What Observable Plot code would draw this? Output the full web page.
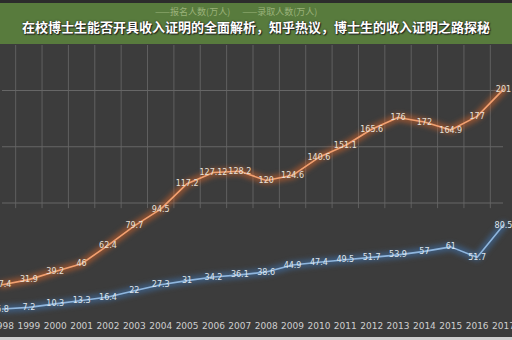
<!DOCTYPE html>
<html>
<head>
<meta charset="utf-8">
<script src="https://cdn.jsdelivr.net/npm/d3@7"></script>
<script src="https://cdn.jsdelivr.net/npm/@observablehq/plot@0.6"></script>
<style>
  html, body { margin: 0; padding: 0; background: #3c3c3c; }
  #wrap { position: relative; width: 512px; height: 340px; overflow: hidden; background: #3c3c3c; font-family: "Noto Sans CJK SC", "Noto Sans", sans-serif; }
  #topstrip { position: absolute; top: 0; left: 0; width: 512px; height: 3px; background: #2c2c2c; }
  #banner { position: absolute; top: 3px; left: 0; width: 512px; height: 41px; background: #587b3d; }
  #legend { position: absolute; top: 6px; left: 155px; font-size: 9px; line-height: 11px; color: #9ab27a; white-space: nowrap; }
  #legend span { margin-right: 12px; }
  #title { position: absolute; top: 18px; left: 0; width: 512px; text-align: center; font-size: 13px; line-height: 18px; font-weight: bold; color: #ffffff; white-space: nowrap; text-shadow: 0 0 2px #222, 1px 1px 1px #222; }
  #chart { position: absolute; top: 45px; left: 0; }
  #bottomline { position: absolute; left: 0; top: 337px; width: 512px; height: 3px; background: #cfcfcf; }
</style>
</head>
<body>
<div id="wrap">
  <div id="topstrip"></div>
  <div id="banner"></div>
  <div id="chart"></div>
  <div id="legend"><span>——报名人数(万人)</span><span>——录取人数(万人)</span></div>
  <div id="title">在校博士生能否开具收入证明的全面解析，知乎热议，博士生的收入证明之路探秘</div>
  <div id="bottomline"></div>
</div>
<script>
const years = [1998,1999,2000,2001,2002,2003,2004,2005,2006,2007,2008,2009,2010,2011,2012,2013,2014,2015,2016,2017];
const applicants = [27.4,31.9,39.2,46,62.4,79.7,94.5,117.2,127.12,128.2,120,124.6,140.6,151.1,165.6,176,172,164.9,177,201];
const admitted = [5.8,7.2,10.3,13.3,16.4,22,27.3,31,34.2,36.1,38.6,44.9,47.4,49.5,51.7,53.9,57,61,51.7,80.5];
const gridValues = [100,150,200];

const appData = years.map((y,i) => ({year: y, value: applicants[i]}));
const admData = years.map((y,i) => ({year: y, value: admitted[i]}));
const midYears = years.slice(0,-1).map(y => y + 0.5);

const plot = Plot.plot({
  width: 512,
  height: 295,
  marginLeft: 2,
  marginRight: 9,
  marginTop: 45,
  marginBottom: 25,
  style: {background: "transparent", color: "#cfcfcf", fontFamily: "DejaVu Sans, sans-serif"},
  x: {domain: [1998, 2017], ticks: years, tickFormat: d => String(d), tickSize: 0, tickPadding: 7, label: null},
  y: {domain: [0, 200], axis: null},
  marks: [
    Plot.ruleX(midYears, {x: d => d, y1: 95, y2: 240, stroke: "#606060", strokeWidth: 1}),
    Plot.ruleY(gridValues, {y: d => d, stroke: "#666666", strokeWidth: 1}),
    Plot.line(appData, {x: "year", y: "value", stroke: "#d9652a", strokeWidth: 8, strokeOpacity: 0.5, className: "glow"}),
    Plot.line(admData, {x: "year", y: "value", stroke: "#3f78b8", strokeWidth: 8, strokeOpacity: 0.5, className: "glow"}),
    Plot.line(appData, {x: "year", y: "value", stroke: "#f2a070", strokeWidth: 1.6}),
    Plot.line(admData, {x: "year", y: "value", stroke: "#8fb6de", strokeWidth: 1.6}),
    Plot.text(appData, {x: "year", y: "value", text: d => String(d.value), fill: "#e6e0d8", fontSize: 8}),
    Plot.text(admData, {x: "year", y: "value", text: d => String(d.value), fill: "#dfe6ee", fontSize: 8})
  ]
});
plot.querySelectorAll(".glow").forEach(g => g.style.filter = "blur(2.5px)");
plot.querySelectorAll('[aria-label="x-axis tick label"] text').forEach(t => t.setAttribute("font-size", "9"));
document.getElementById("chart").appendChild(plot);
</script>
</body>
</html>
